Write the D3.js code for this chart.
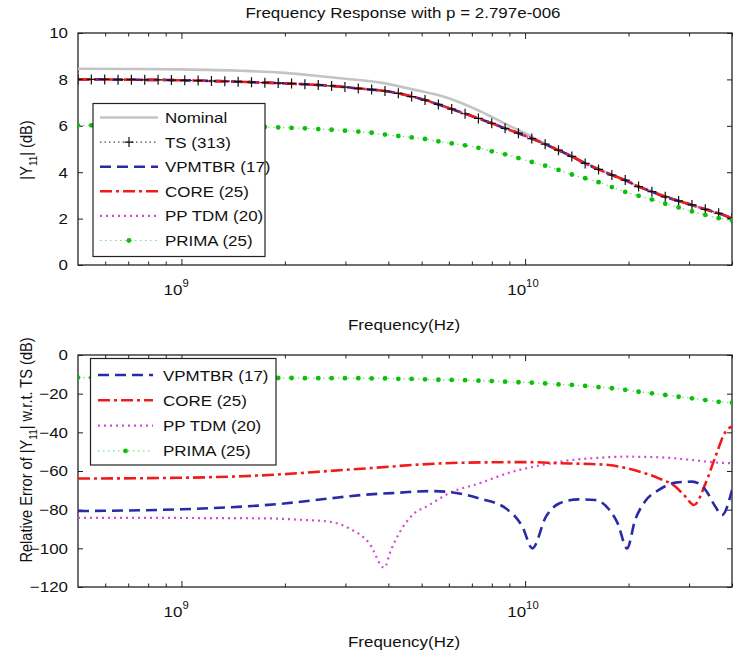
<!DOCTYPE html>
<html><head><meta charset="utf-8">
<script src="https://cdn.jsdelivr.net/npm/d3@7"></script>
<style>
body{margin:0;background:#fff}
svg{display:block}
text{font-family:"Liberation Sans", Arial, Helvetica, sans-serif;fill:#111}
</style>
</head><body>
<svg id="chart" width="733" height="657"></svg>
<script>
// ---------------- DATA ----------------
// Sampling grid (GHz) at which the TS and PRIMA markers are drawn: 50 log-spaced frequencies 0.5..40 GHz
const gridGHz = d3.range(50).map(i => 0.5 * Math.pow(80, i / 49));

// Top panel: |Y11| (dB)
const tsTop = [8.00,8.00,8.00,7.99,7.99,7.98,7.98,7.97,7.96,7.95,
               7.93,7.92,7.90,7.88,7.86,7.84,7.82,7.79,7.76,7.72,
               7.67,7.61,7.56,7.50,7.40,7.26,7.11,6.92,6.72,6.52,
               6.32,6.11,5.89,5.68,5.45,5.21,4.95,4.68,4.38,4.12,
               3.88,3.66,3.38,3.16,2.94,2.76,2.59,2.40,2.23,2.01];
const vpmtbrTop = tsTop;   // visually identical to TS (error < -55 dB)
const coreTop = tsTop;
const pptdmTop = tsTop;
const primaTop = [6.02,6.02,6.02,6.02,6.01,6.01,6.01,6.00,6.00,5.99,
                  5.99,5.98,5.97,5.96,5.95,5.93,5.91,5.89,5.86,5.83,
                  5.79,5.75,5.70,5.62,5.56,5.50,5.43,5.33,5.24,5.16,
                  5.05,4.90,4.77,4.61,4.44,4.28,4.10,3.90,3.74,3.57,
                  3.36,3.15,2.98,2.82,2.64,2.48,2.31,2.16,2.02,1.92];
const nominalGHz = [0.5,0.7,1.0,1.5,2.0,2.5,3.0,3.8,4.7,5.9,7.35,8.8,10,12,15,20,25,30,40];
const nominalTop = [8.46,8.45,8.43,8.37,8.28,8.15,8.03,7.86,7.57,7.22,6.65,6.07,5.68,5.05,4.40,3.56,3.02,2.62,2.03];

// Bottom panel: relative error w.r.t. TS (dB)
const primaErr = [-11.7,-11.7,-11.7,-11.7,-11.7,-11.7,-11.7,-11.7,-11.8,-11.8,
                  -11.8,-11.8,-11.8,-11.9,-11.9,-11.9,-11.9,-12.0,-12.0,-12.0,
                  -12.0,-12.0,-12.1,-12.1,-12.3,-12.4,-12.6,-12.8,-12.9,-13.0,
                  -13.3,-13.5,-13.8,-14.1,-14.3,-14.7,-15.2,-15.5,-16.0,-16.6,
                  -17.2,-18.0,-19.0,-19.8,-20.7,-21.6,-22.4,-23.3,-24.2,-24.7];
const vpmtbrErrGHz = [0.5,1.0,2.02,2.69,3.36,4.3,5.26,5.88,6.6,7.35,8.78,9.82,10.5,11.5,12.6,14.3,16.0,17.6,18.6,19.8,20.9,22.3,24.5,27.4,30.6,33.5,35.8,37.4,40];
const vpmtbrErr = [-80.7,-79.8,-76.7,-74.2,-72.4,-71.2,-70.4,-70.7,-72.0,-74.2,-79.3,-88.8,-100,-83.6,-76.7,-74.7,-75.0,-80.2,-87.1,-100,-85.4,-75.9,-69.8,-66.0,-65.5,-69.8,-78.5,-82.8,-69.8];
const coreErrGHz = [0.5,1.0,1.5,2.0,2.69,3.68,5.0,6.6,10.2,12.6,15,17.5,21.0,24.5,27.4,29.3,31.0,33.5,35.8,38.3,40];
const coreErr = [-63.9,-63.5,-62.7,-61.6,-60.0,-58.3,-56.6,-55.7,-55.4,-56.0,-56.3,-56.9,-59.8,-63.8,-68.1,-73.3,-77.6,-66.4,-52.6,-39.7,-37.0];
const pptdmErrGHz = [0.5,1.0,1.77,2.2,2.69,3.08,3.52,3.89,4.07,4.30,4.70,5.26,6.01,7.35,9.18,11.2,13.7,15.7,19.6,24.5,30.6,36.6,40];
const pptdmErr = [-84.2,-84.3,-84.5,-85.2,-86.2,-89.7,-97.4,-110,-100.9,-92.2,-82.8,-77.6,-71.5,-66.4,-60.4,-56.9,-54.3,-53.4,-52.6,-52.9,-54.3,-55.7,-56.0];

// Ticks and labels
const xMajorTicks = [1e9, 1e10];
const xMajorExp = ["9", "10"];
const xMinorTicks = [6e8,7e8,8e8,9e8,2e9,3e9,4e9,5e9,6e9,7e9,8e9,9e9,2e10,3e10,4e10];
const yTicksTop = [0,2,4,6,8,10];
const yTicksBottom = [-120,-100,-80,-60,-40,-20,0];
const legendTop = ["Nominal","TS (313)","VPMTBR (17)","CORE (25)","PP TDM (20)","PRIMA (25)"];
const legendBottom = ["VPMTBR (17)","CORE (25)","PP TDM (20)","PRIMA (25)"];
const titleText = "Frequency Response with p = 2.797e-006";

// ---------------- STYLES ----------------
const SX = 1.13;   // horizontal stretch of the glyphs in the original picture
const FS = 15;
const st = {
  nominal:{stroke:"#c4c4c4", width:2.6, dash:null},
  ts:{stroke:"#222", width:1, dash:"1.5,3"},
  vpmtbr:{stroke:"#2a2aa8", width:2.6, dash:"11,6"},
  core:{stroke:"#f01c1c", width:2.6, dash:"12,4,3,4"},
  pptdm:{stroke:"#d24ad2", width:2.2, dash:"2,4"},
  prima:{stroke:"#7ddc7d", width:1.2, dash:"1.5,3.5"}
};

// ---------------- CHART ----------------
const svg = d3.select("#chart");
const L = 78, R = 732;
const x = d3.scaleLog().domain([5e8, 4e10]).range([L, R]);
const yTop = d3.scaleLinear().domain([0, 10]).range([265, 33]);
const yBot = d3.scaleLinear().domain([-120, 0]).range([587, 355]);

function htext(g, tx, ty, str, anchor, size){
  return g.append("text").attr("transform",`translate(${tx},${ty}) scale(${SX},1)`)
    .attr("text-anchor", anchor).attr("font-size", size || FS).text(str);
}

htext(svg, 403, 18, titleText, "middle", FS);

function toPts(fGHz, vals){ return fGHz.map((f,i)=>({f:f*1e9, v:vals[i]})); }

function panel(y, id, yTicks){
  const g = svg.append("g");
  const [y0, y1] = y.range();
  g.append("clipPath").attr("id", id).append("rect")
    .attr("x", L).attr("y", y1).attr("width", R-L).attr("height", y0-y1);
  // y axes (ticks inward)
  g.append("g").attr("transform",`translate(${L},0)`)
    .call(d3.axisLeft(y).tickValues(yTicks).tickSize(-5).tickPadding(10).tickFormat(d3.format("d")))
    .call(s=>{
      s.select(".domain").remove();
      s.selectAll("text").attr("font-size",FS).attr("fill","#111")
        .attr("font-family",'"Liberation Sans", Arial, sans-serif')
        .attr("x", -10/SX).attr("transform",`scale(${SX},1)`);
      s.selectAll("line").attr("stroke","#222");
    });
  g.append("g").attr("transform",`translate(${R},0)`)
    .call(d3.axisRight(y).tickValues(yTicks).tickSize(-5).tickFormat(""))
    .call(s=>{s.select(".domain").remove(); s.selectAll("line").attr("stroke","#222");});
  // x ticks major & minor, bottom and top
  [[d3.axisBottom, y0, -6, xMajorTicks],[d3.axisBottom, y0, -3.5, xMinorTicks],
   [d3.axisTop, y1, -6, xMajorTicks],[d3.axisTop, y1, -3.5, xMinorTicks]].forEach(([ax, yy, sz, tv])=>{
    g.append("g").attr("transform",`translate(0,${yy})`)
      .call(ax(x).tickValues(tv).tickSize(sz).tickFormat(""))
      .call(s=>{s.select(".domain").remove(); s.selectAll("line").attr("stroke","#222");});
  });
  // x tick labels 10^n
  xMajorTicks.forEach((t,i)=>{
    htext(g, x(t)+1, y0+30, "10", "end", FS);
    htext(g, x(t)+1, y0+22, xMajorExp[i], "start", 10);
  });
  htext(g, 404, y0 + (id==="cTop"?65:60), "Frequency(Hz)", "middle", FS);
  // frame
  g.append("rect").attr("x",L).attr("y",y1).attr("width",R-L).attr("height",y0-y1)
    .attr("fill","none").attr("stroke","#222").attr("stroke-width",1.3);
  return svg.append("g").attr("clip-path",`url(#${id})`);
}

function drawLine(g, y, pts, s){
  g.append("path").datum(pts)
    .attr("d", d3.line().x(d=>x(d.f)).y(d=>y(d.v)).curve(d3.curveMonotoneX))
    .attr("fill","none").attr("stroke", s.stroke).attr("stroke-width", s.width)
    .attr("stroke-dasharray", s.dash).attr("stroke-linejoin","round");
}
function plus(g, cx, cy){
  g.append("path").attr("d",`M${cx-4.5},${cy}H${cx+4.5}M${cx},${cy-5}V${cy+5}`)
    .attr("stroke","#111").attr("stroke-width",1.2);
}
function dot(g, cx, cy){
  g.append("circle").attr("cx",cx).attr("cy",cy).attr("r",2.4).attr("fill","#0cbf0c");
}

// ---- top panel ----
const pTop = panel(yTop, "cTop", yTicksTop);
drawLine(pTop, yTop, toPts(nominalGHz, nominalTop), st.nominal);
drawLine(pTop, yTop, toPts(gridGHz, tsTop), st.ts);
drawLine(pTop, yTop, toPts(gridGHz, pptdmTop), st.pptdm);
drawLine(pTop, yTop, toPts(gridGHz, vpmtbrTop), st.vpmtbr);
drawLine(pTop, yTop, toPts(gridGHz, coreTop), st.core);
drawLine(pTop, yTop, toPts(gridGHz, primaTop), st.prima);
gridGHz.forEach((f,i)=>{ plus(pTop, x(f*1e9), yTop(tsTop[i])); dot(pTop, x(f*1e9), yTop(primaTop[i])); });

// ---- bottom panel ----
const pBot = panel(yBot, "cBot", yTicksBottom);
drawLine(pBot, yBot, toPts(pptdmErrGHz, pptdmErr), st.pptdm);
drawLine(pBot, yBot, toPts(coreErrGHz, coreErr), st.core);
drawLine(pBot, yBot, toPts(vpmtbrErrGHz, vpmtbrErr), st.vpmtbr);
drawLine(pBot, yBot, toPts(gridGHz, primaErr), st.prima);
gridGHz.forEach((f,i)=>{ dot(pBot, x(f*1e9), yBot(primaErr[i])); });

// ---- y labels ----
function ylab(cx, cy, parts){
  const t = svg.append("text").attr("transform",`translate(${cx},${cy}) rotate(-90) scale(1,${SX})`)
    .attr("text-anchor","middle").attr("font-size",14.6);
  parts.forEach(p=>{
    const ts = t.append("tspan").text(p.t);
    if(p.sub){ ts.attr("font-size",10).attr("dy",4); }
    if(p.back){ ts.attr("dy",-4); }
  });
}
ylab(32, 150, [{t:"|Y"},{t:"11",sub:true},{t:"| (dB)",back:true}]);
ylab(32, 450, [{t:"Relative Error of |Y"},{t:"11",sub:true},{t:"| w.r.t. TS (dB)",back:true}]);

// ---- legends ----
function legend(bx, by, bw, bh, items, styles, y0, dy, lx0, lx1, tx){
  const g = svg.append("g");
  g.append("rect").attr("x",bx).attr("y",by).attr("width",bw).attr("height",bh)
    .attr("fill","#fff").attr("stroke","#222").attr("stroke-width",1.2);
  items.forEach((name,i)=>{
    const cy = y0 + i*dy, s = styles[i];
    g.append("line").attr("x1",lx0).attr("x2",lx1).attr("y1",cy).attr("y2",cy)
      .attr("stroke",s.stroke).attr("stroke-width",s.width).attr("stroke-dasharray",s.dash);
    if(s===st.ts) plus(g,(lx0+lx1)/2,cy);
    if(s===st.prima) dot(g,(lx0+lx1)/2,cy);
    htext(g, tx, cy+5.5, name, "start", FS);
  });
}
legend(93, 103.5, 172, 153, legendTop, [st.nominal, st.ts, st.vpmtbr, st.core, st.pptdm, st.prima],
       117.5, 24.6, 100, 158, 165);
legend(90.5, 358.5, 185.5, 106.5, legendBottom, [st.vpmtbr, st.core, st.pptdm, st.prima],
       375, 25.3, 98, 153, 163);
</script>
</body></html>
